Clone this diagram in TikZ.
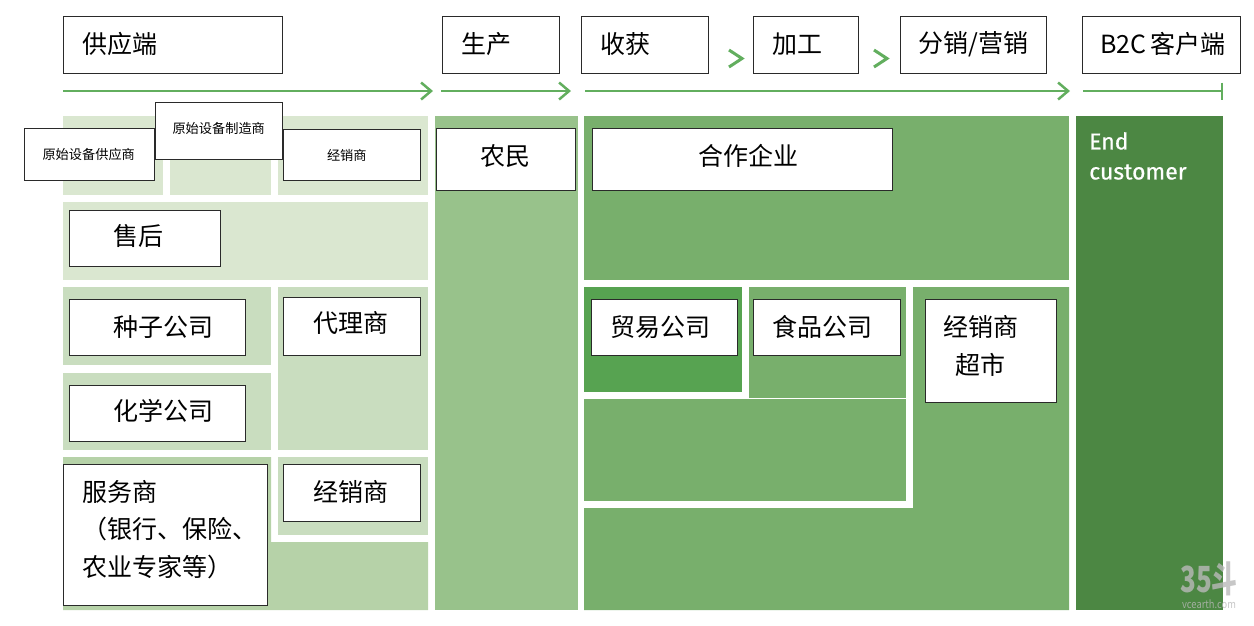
\documentclass[tikz,border=0pt]{standalone}
\usepackage{fontspec}
\setmainfont{Noto Sans CJK SC}
\newfontfamily\enfont[FakeBold=0.6]{Fira Sans}
\usetikzlibrary{arrows.meta}
\definecolor{gLight}{HTML}{DAE7D0}
\definecolor{gMid}{HTML}{C9DDBF}
\definecolor{gSoft}{HTML}{B6D2A8}
\definecolor{gCol}{HTML}{98C28B}
\definecolor{gMain}{HTML}{78AF6C}
\definecolor{gDeep}{HTML}{57A351}
\definecolor{gEnd}{HTML}{4C8743}
\definecolor{gLine}{HTML}{62AE5E}
\definecolor{bxLine}{HTML}{2A2A2A}
% raise a node's text by half of #1
\newcommand\lift[1]{\par\kern#1pt\relax}
\tikzset{
  x=1pt,y=-1pt,
  bx/.style n args={3}{draw=bxLine,fill=white,line width=1pt,anchor=north west,
    minimum height=#2pt-0.5pt,inner ysep=0pt,inner xsep=#3pt,
    text width=#1pt-2*#3pt-1.5pt,align=left,text=black},
  big/.style={font=\fontsize{25}{37.5}\selectfont},
  small/.style={font=\fontsize{13.2}{16}\selectfont},
  flow/.style={draw=gLine,line width=2pt},
  tipped/.style={flow,-{Straight Barb[length=10pt,width=17pt,line width=2.5pt]}},
  chev/.style={draw=gLine,line width=3pt},
}
\begin{document}
\begin{tikzpicture}
\useasboundingbox (0,0) rectangle (1254,625);
% background regions
\fill[gLight] (63,116) rectangle (163,195);
\fill[gLight] (170,116) rectangle (271,195);
\fill[gLight] (278,116) rectangle (428,195);
\fill[gLight] (63,202) rectangle (428,280);
\fill[gMid] (63,287) rectangle (271,365);
\fill[gMid] (278,287) rectangle (428,450);
\fill[gMid] (63,373) rectangle (271,450);
\fill[gMid] (278,457) rectangle (428,535);
\fill[gSoft] (63,457) -- (271,457) -- (271,542) -- (428,542) -- (428,610) -- (63,610) -- cycle;
\fill[gCol] (435,116) rectangle (578,610);
\fill[gMain] (584,116) rectangle (1069,280);
\fill[gDeep] (584,287) rectangle (742,392);
\fill[gMain] (749,287) rectangle (906,398);
\fill[gMain] (584,399) rectangle (906,501);
\fill[gMain] (913,287) -- (1069,287) -- (1069,610) -- (584,610) -- (584,508) -- (913,508) -- cycle;
\fill[gEnd] (1076,116) rectangle (1223,610);
% flow lines
\coordinate (a1) at (63,91); \coordinate (a2) at (433,91);
\coordinate (b1) at (441,91); \coordinate (b2) at (571,91);
\coordinate (c1) at (585,91); \coordinate (c2) at (1070,91);
\coordinate (d1) at (1083,91); \coordinate (d2) at (1223,91);
\draw[tipped] (a1) -- (a2);
\draw[tipped] (b1) -- (b2);
\draw[tipped] (c1) -- (c2);
\draw[flow,-{Bar[width=17pt,line width=2pt]}] (d1) -- (d2);
% chevrons
\draw[chev] (729,50) -- (742,58.5) -- (729,67);
\draw[chev] (874,50) -- (887,58.5) -- (874,67);
% header boxes
\node[bx={220}{57}{19},big] (h1) at (63,16) {供应端\lift{1}};
\node[bx={118}{57}{19},big] (h2) at (442,16) {生产\lift{1}};
\node[bx={128}{57}{19},big] (h3) at (581,16) {收获\lift{1}};
\node[bx={106}{57}{19},big] (h4) at (753,16) {加工\lift{1}};
\node[bx={147}{57}{18},big] (h5) at (900,16) {分销/营销\lift{1}};
\node[bx={159}{57}{18},big] (h6) at (1082,16) {\mbox{B2C \kern-5pt 客户端}\lift{1}};
% supply boxes
\node[bx={131}{52}{18},small] (s1) at (24,128) {原始设备供应商\lift{-2}};
\node[bx={138}{51}{43.5},small] (s3) at (283,129) {经销商\lift{-2}};
\node[bx={128}{57}{17},small] (s2) at (155,102) {原始设备制造商\lift{4}};
\node[bx={152}{56}{44},big] (s4) at (69,210) {售后\lift{4}};
\node[bx={177}{56}{44},big] (s5) at (69,299) {种子公司};
\node[bx={138}{58}{30},big] (s6) at (283,297) {代理商\lift{6}};
\node[bx={177}{56}{44},big] (s7) at (69,385) {化学公司\lift{4}};
\node[bx={205}{141}{19},big] (s8) at (63,464) {服务商\\（银行、保险、\\农业专家等）\lift{11}};
\node[bx={138}{57}{30},big] (s9) at (283,464) {经销商\lift{2}};
% production and downstream
\node[bx={140}{62}{44},big] (p1) at (436,128) {农民\lift{6}};
\node[bx={301}{62}{106},big] (q1) at (592,128) {合作企业\lift{7}};
\node[bx={147}{56}{19},big] (q2) at (591,299) {贸易公司};
\node[bx={148}{56}{19},big] (q3) at (753,299) {食品公司};
\node[bx={132}{103}{18},big] (q4) at (925,299) {经销商\\\hspace*{12pt}超市\lift{10}};
% end customer
\node[anchor=north west,inner sep=0pt,text=white,align=left,font={\enfont\fontsize{23}{30}\selectfont}] (e1) at (1089,132) {End\\customer};
% watermark
\node[anchor=center,inner sep=0pt,text=gray!55,opacity=.8,xscale=.72,font=\fontsize{36}{36}\selectfont\bfseries] (w1) at (1209,579) {35斗};
\node[anchor=center,inner sep=0pt,text=gray!55,opacity=.8,xscale=.85,font=\fontsize{11}{11}\selectfont] (w2) at (1209,604) {vcearth.com};
\end{tikzpicture}
\end{document}
